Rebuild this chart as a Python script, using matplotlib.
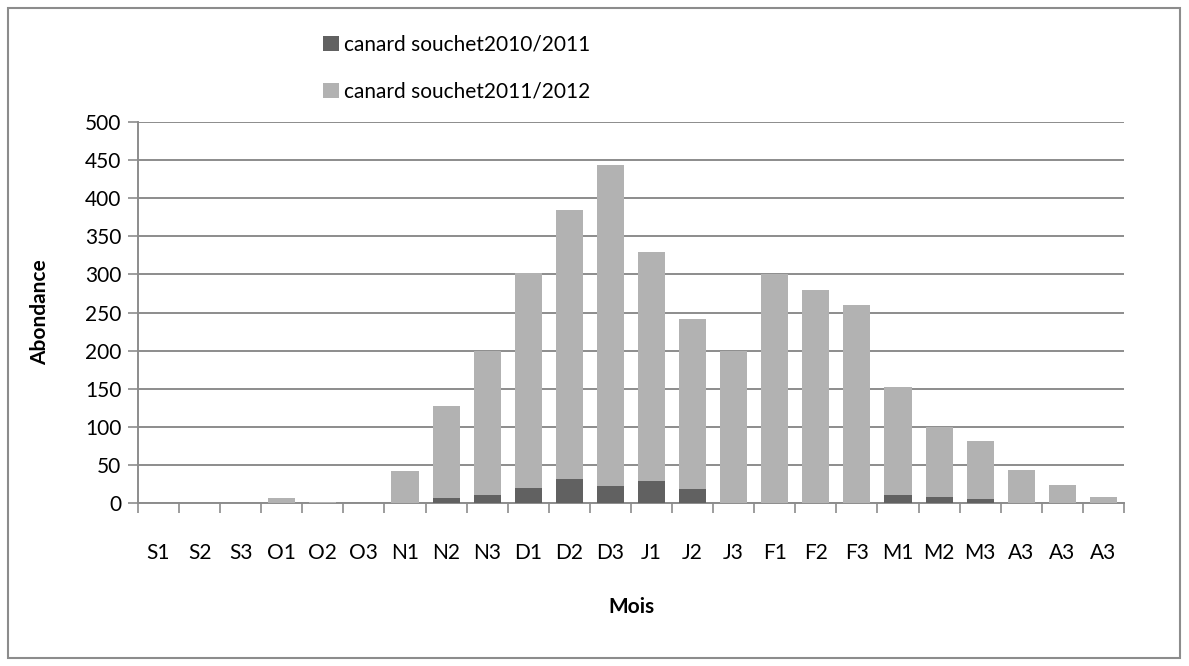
import numpy as np
import matplotlib
matplotlib.use("Agg")
import matplotlib.pyplot as plt
from matplotlib.patches import Rectangle

plt.rcParams['font.family'] = ['Lato', 'DejaVu Sans']

mois = ['S1', 'S2', 'S3', 'O1', 'O2', 'O3', 'N1', 'N2', 'N3', 'D1', 'D2', 'D3',
        'J1', 'J2', 'J3', 'F1', 'F2', 'F3', 'M1', 'M2', 'M3', 'A3', 'A3', 'A3']
souchet_2010_2011 = [0, 0, 0, 0, 0, 0, 0, 7, 10, 20, 32, 22,
                     29, 19, 0, 0, 0, 0, 11, 8, 5, 0, 0, 0]
souchet_2011_2012 = [0, 0, 0, 6, 2, 0, 42, 120, 190, 282, 352, 421,
                     301, 222, 200, 300, 280, 260, 141, 92, 76, 44, 24, 8]

dark = '#616161'
light = '#b2b2b2'
grid_col = '#8c8c8c'

fig = plt.figure(figsize=(11.89, 6.66), dpi=100)
ax = fig.add_axes([0.116, 0.2447, 0.8293, 0.5721])

x = np.arange(len(mois))
ax.bar(x, souchet_2010_2011, width=0.66, color=dark, linewidth=0,
       label='canard souchet2010/2011', zorder=3)
ax.bar(x, souchet_2011_2012, width=0.66, bottom=souchet_2010_2011, color=light,
       linewidth=0, label='canard souchet2011/2012', zorder=3)

ax.set_xlim(-0.5, len(mois) - 0.5)
ax.set_ylim(0, 500)
ax.set_yticks(np.arange(0, 501, 50))
ax.yaxis.grid(True, color=grid_col, linewidth=1.4, zorder=0)
ax.set_axisbelow(True)

ax.set_xticks(x)
ax.set_xticklabels(mois)
ax.set_xticks(np.arange(-0.5, len(mois), 1), minor=True)
ax.tick_params(axis='x', which='major', length=0, pad=29, labelsize=15)
ax.tick_params(axis='x', which='minor', length=7, color=grid_col, width=1.2)
ax.tick_params(axis='y', length=7, color=grid_col, width=1.2, labelsize=15, pad=5)

for side in ['top', 'right']:
    ax.spines[side].set_visible(False)
for side in ['left', 'bottom']:
    ax.spines[side].set_color(grid_col)
    ax.spines[side].set_linewidth(1.4)

ax.set_xlabel('Mois', fontsize=15, fontweight='bold', labelpad=24)
ax.set_ylabel('Abondance', fontsize=15, fontweight='bold', labelpad=25)

ax.legend(loc='lower left', bbox_to_anchor=(0.175, 1.02), frameon=False, fontsize=15,
          handlelength=0.75, handleheight=0.75, handletextpad=0.25, labelspacing=1.3,
          borderaxespad=0.2)

fig.patches.append(Rectangle((8 / 1189, 8 / 666), 1172 / 1189, 650 / 666,
                             transform=fig.transFigure, fill=False,
                             edgecolor='#8c8c8c', linewidth=1.5))

fig.savefig('out.png', dpi=100)
